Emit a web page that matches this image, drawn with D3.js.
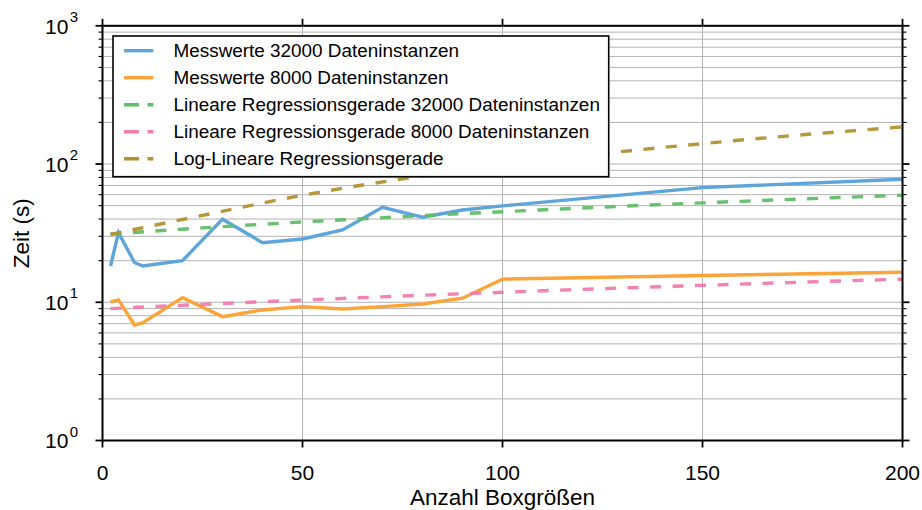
<!DOCTYPE html>
<html>
<head>
<meta charset="utf-8">
<script src="https://cdn.jsdelivr.net/npm/d3@7"></script>
<style>
  html, body { margin: 0; padding: 0; background: #fff; }
  svg { display: block; }
  text { font-family: "Liberation Sans", Arial, Helvetica, sans-serif; fill: #000; }
</style>
</head>
<body>
<svg id="chart" width="922" height="510"></svg>
<script>
// Box sizes and measured run times (seconds)
const boxSizes  = [2, 4, 8, 10, 20, 30, 40, 50, 60, 70, 80, 90, 100, 150, 200];
const zeit32000 = [18.3, 31.9, 19.4, 18.3, 20.0, 39.9, 27.0, 28.7, 33.4, 48.7, 41.2, 46.5, 49.8, 67.5, 77.6];
const zeit8000  = [10.05, 10.4, 6.85, 7.1, 10.8, 7.87, 8.8, 9.3, 8.94, 9.3, 9.72, 10.7, 14.7, 15.6, 16.5];

// Regression curves sampled along the box-size axis
const regX        = [2, 25, 50, 75, 100, 125, 150, 175, 200];
const linReg32000 = [31.2, 34.5, 38.1, 41.6, 45.2, 48.8, 52.4, 55.9, 59.5];
const linReg8000  = [9.0, 9.66, 10.38, 11.1, 11.82, 12.54, 13.26, 13.98, 14.7];
const logLinReg   = [31.0, 42.5, 59.4, 78.1, 98.0, 118.9, 140.5, 162.8, 185.5];

// Axis ticks
const xTicks = [0, 50, 100, 150, 200];
const yExponents = [0, 1, 2, 3];

const seriesNames = [
  "Messwerte 32000 Dateninstanzen",
  "Messwerte 8000 Dateninstanzen",
  "Lineare Regressionsgerade 32000 Dateninstanzen",
  "Lineare Regressionsgerade 8000 Dateninstanzen",
  "Log-Lineare Regressionsgerade"
];

const svg = d3.select("#chart");
const pLeft = 102.5, pRight = 902.5, pTop = 25.8, pBottom = 440.5;

const x = d3.scaleLinear().domain([0, 200]).range([pLeft, pRight]);
const y = d3.scaleLog().domain([1, 1000]).range([pBottom, pTop]);

const colors = ["#5DA5DA", "#FAA43A", "#60BD68", "#F17CB0", "#B2912F"];

// minor + major log ticks
const logTicks = [];
for (let e = 0; e < 3; e++) {
  for (let m = 1; m < 10; m++) logTicks.push(m * Math.pow(10, e));
}
logTicks.push(1000);
const minorTicks = logTicks.filter(v => !yExponents.some(e => Math.abs(v - Math.pow(10, e)) < 1e-9));

// grid
const grid = svg.append("g").attr("stroke", "#b3b3b3").attr("stroke-width", 1);
grid.selectAll("line.h").data(logTicks).join("line")
  .attr("x1", pLeft).attr("x2", pRight)
  .attr("y1", d => y(d)).attr("y2", d => y(d));
grid.selectAll("line.v").data(xTicks).join("line")
  .attr("x1", d => x(d)).attr("x2", d => x(d))
  .attr("y1", pTop).attr("y2", pBottom);

// data lines
const plot = svg.append("g");
const lineOf = (xs, curve) => d3.line()
  .x((d, i) => x(xs[i]))
  .y(d => y(d))
  .curve(curve || d3.curveLinear);

plot.append("path").datum(zeit32000)
  .attr("d", lineOf(boxSizes))
  .attr("fill", "none").attr("stroke", colors[0]).attr("stroke-width", 3.4);
plot.append("path").datum(zeit8000)
  .attr("d", lineOf(boxSizes))
  .attr("fill", "none").attr("stroke", colors[1]).attr("stroke-width", 3.4);

[[linReg32000, colors[2]], [linReg8000, colors[3]], [logLinReg, colors[4]]].forEach(([vals, c]) => {
  plot.append("path").datum(vals)
    .attr("d", lineOf(regX, d3.curveMonotoneX))
    .attr("fill", "none").attr("stroke", c).attr("stroke-width", 3.4)
    .attr("stroke-dasharray", "11,11.5").attr("opacity", 0.95);
});

// axes: spines with outward ticks on all four sides
const axes = svg.append("g").attr("stroke", "#000");
axes.append("rect")
  .attr("x", pLeft).attr("y", pTop).attr("width", pRight - pLeft).attr("height", pBottom - pTop)
  .attr("fill", "none").attr("stroke-width", 2);

xTicks.forEach(v => {
  axes.append("line").attr("x1", x(v)).attr("x2", x(v)).attr("y1", pBottom).attr("y2", pBottom + 7).attr("stroke-width", 1.8);
  axes.append("line").attr("x1", x(v)).attr("x2", x(v)).attr("y1", pTop).attr("y2", pTop - 7).attr("stroke-width", 1.8);
});
yExponents.forEach(e => {
  const yy = y(Math.pow(10, e));
  axes.append("line").attr("x1", pLeft).attr("x2", pLeft - 7).attr("y1", yy).attr("y2", yy).attr("stroke-width", 1.8);
  axes.append("line").attr("x1", pRight).attr("x2", pRight + 7).attr("y1", yy).attr("y2", yy).attr("stroke-width", 1.8);
});
minorTicks.forEach(v => {
  const yy = y(v);
  axes.append("line").attr("x1", pLeft).attr("x2", pLeft - 4).attr("y1", yy).attr("y2", yy).attr("stroke-width", 1.1);
  axes.append("line").attr("x1", pRight).attr("x2", pRight + 4).attr("y1", yy).attr("y2", yy).attr("stroke-width", 1.1);
});

// tick labels
svg.append("g").selectAll("text").data(xTicks).join("text")
  .attr("x", d => x(d)).attr("y", pBottom + 39)
  .attr("text-anchor", "middle").attr("font-size", "21px")
  .text(d => d);

const yl = svg.append("g");
yExponents.forEach(e => {
  const yy = y(Math.pow(10, e));
  const t = yl.append("text").attr("x", 45).attr("y", yy + 7.8).attr("font-size", "21px");
  t.append("tspan").text("10");
  t.append("tspan").attr("dx", 1.5).attr("dy", -11.8).attr("font-size", "15px").text(e);
});

// axis titles
svg.append("text")
  .attr("x", (pLeft + pRight) / 2).attr("y", 505)
  .attr("text-anchor", "middle").attr("font-size", "22.5px")
  .text("Anzahl Boxgrößen");
svg.append("text")
  .attr("transform", `translate(28.5,${(pTop + pBottom) / 2}) rotate(-90)`)
  .attr("text-anchor", "middle").attr("font-size", "22.5px")
  .text("Zeit (s)");

// legend
const lg = svg.append("g");
lg.append("rect").attr("x", 113).attr("y", 36).attr("width", 495.7).attr("height", 140.7)
  .attr("fill", "#fff").attr("stroke", "#000").attr("stroke-width", 1.6);
seriesNames.forEach((name, i) => {
  const cy = 50.7 + i * 27;
  lg.append("line").attr("x1", 124).attr("x2", 153.3).attr("y1", cy).attr("y2", cy)
    .attr("stroke", colors[i]).attr("stroke-width", 3.4)
    .attr("stroke-dasharray", i >= 2 ? "15,8.5" : null);
  lg.append("text").attr("x", 173.5).attr("y", cy + 6.7).attr("font-size", "18.9px").text(name);
});
</script>
</body>
</html>
